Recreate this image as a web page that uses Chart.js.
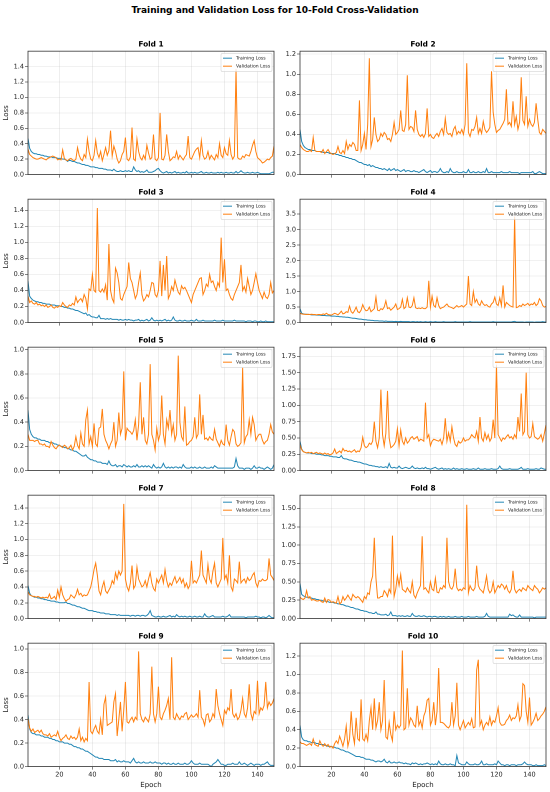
<!DOCTYPE html>
<html>
<head>
<meta charset="utf-8">
<script src="https://cdn.jsdelivr.net/npm/chart.js@4.4.0/dist/chart.umd.min.js"></script>
<style>
  body { margin: 0; background: #fff; width: 550px; height: 792px; position: relative; overflow: hidden; font-family: "DejaVu Sans", sans-serif; }
  #title { position: absolute; left: 0; top: 4px; width: 550px; text-align: center; font-weight: bold; font-size: 9px; line-height: 12px; color: #000; }
  canvas { position: absolute; }
</style>
</head>
<body>
<div id="title">Training and Validation Loss for 10-Fold Cross-Validation</div>
<script>
// epochs 1..150 (x categories)
const epochs = Array.from({ length: 150 }, (_, i) => i + 1);
const xTicks = [20, 40, 60, 80, 100, 120, 140];

const yMax = [1.6, 1.23, 1.54, 3.98, 1.02, 1.89, 1.56, 1.68, 1.05, 1.34];
const yTicks = [
  [0, 0.2, 0.4, 0.6, 0.8, 1.0, 1.2, 1.4],
  [0, 0.2, 0.4, 0.6, 0.8, 1.0, 1.2],
  [0, 0.2, 0.4, 0.6, 0.8, 1.0, 1.2, 1.4],
  [0, 0.5, 1.0, 1.5, 2.0, 2.5, 3.0, 3.5],
  [0, 0.2, 0.4, 0.6, 0.8, 1.0],
  [0, 0.25, 0.5, 0.75, 1.0, 1.25, 1.5, 1.75],
  [0, 0.2, 0.4, 0.6, 0.8, 1.0, 1.2, 1.4],
  [0, 0.25, 0.5, 0.75, 1.0, 1.25, 1.5],
  [0, 0.2, 0.4, 0.6, 0.8, 1.0],
  [0, 0.2, 0.4, 0.6, 0.8, 1.0, 1.2]
];
const yDecimals = [1, 1, 1, 1, 1, 2, 1, 2, 1, 1];

const train1 = [
  0.47,0.34,0.30,0.28,0.27,0.27,0.26,0.26,0.25,0.25,
  0.24,0.24,0.23,0.23,0.23,0.22,0.22,0.22,0.21,0.21,
  0.21,0.20,0.20,0.19,0.17,0.19,0.18,0.17,0.17,0.16,
  0.15,0.15,0.14,0.13,0.13,0.12,0.12,0.11,0.10,0.10,
  0.10,0.09,0.09,0.08,0.08,0.08,0.07,0.07,0.06,0.06,
  0.06,0.05,0.07,0.05,0.04,0.04,0.05,0.04,0.04,0.05,
  0.04,0.05,0.04,0.04,0.10,0.06,0.04,0.05,0.03,0.04,
  0.03,0.04,0.06,0.03,0.03,0.03,0.04,0.05,0.07,0.08,
  0.05,0.03,0.02,0.03,0.04,0.02,0.03,0.02,0.03,0.04,
  0.02,0.03,0.02,0.02,0.03,0.02,0.04,0.02,0.02,0.03,
  0.02,0.03,0.02,0.02,0.03,0.04,0.02,0.02,0.03,0.02,
  0.02,0.03,0.02,0.02,0.02,0.03,0.02,0.03,0.02,0.02,
  0.03,0.02,0.02,0.03,0.02,0.02,0.04,0.02,0.03,0.05,
  0.03,0.02,0.02,0.03,0.02,0.02,0.03,0.02,0.02,0.03,
  0.02,0.01,0.01,0.01,0.01,0.01,0.01,0.02,0.03,0.03
];
const val1 = [
  0.33,0.26,0.24,0.22,0.21,0.20,0.20,0.21,0.22,0.21,
  0.20,0.19,0.21,0.22,0.23,0.24,0.23,0.22,0.19,0.20,
  0.19,0.32,0.21,0.19,0.18,0.20,0.21,0.19,0.18,0.20,
  0.35,0.25,0.20,0.18,0.26,0.22,0.46,0.30,0.20,0.18,
  0.25,0.44,0.28,0.22,0.30,0.18,0.26,0.35,0.25,0.31,
  0.57,0.24,0.37,0.30,0.20,0.15,0.18,0.26,0.30,0.48,
  0.20,0.18,0.23,0.61,0.20,0.18,0.46,0.30,0.22,0.19,
  0.25,0.20,0.38,0.28,0.20,0.22,0.52,0.20,0.18,0.22,
  0.80,0.20,0.19,0.25,0.52,0.30,0.18,0.20,0.23,0.22,
  0.30,0.20,0.25,0.22,0.19,0.23,0.26,0.50,0.22,0.20,
  0.25,0.30,0.33,0.35,0.22,0.44,0.25,0.20,0.22,0.30,
  0.20,0.25,0.22,0.19,0.26,0.22,0.40,0.25,0.22,0.35,
  0.27,0.25,0.44,0.26,0.20,0.24,1.37,0.22,0.20,0.20,
  0.24,0.22,0.26,0.25,0.24,0.30,0.38,0.44,0.30,0.22,
  0.20,0.18,0.15,0.16,0.18,0.20,0.19,0.22,0.24,0.37
];

const train2 = [
  0.45,0.33,0.29,0.27,0.26,0.25,0.25,0.24,0.24,0.24,
  0.23,0.23,0.23,0.23,0.22,0.22,0.22,0.22,0.21,0.21,
  0.21,0.21,0.20,0.20,0.19,0.19,0.18,0.18,0.17,0.17,
  0.16,0.16,0.15,0.15,0.14,0.13,0.12,0.12,0.11,0.10,
  0.10,0.09,0.10,0.08,0.09,0.08,0.07,0.07,0.06,0.06,
  0.05,0.06,0.05,0.04,0.06,0.04,0.05,0.06,0.04,0.05,
  0.04,0.03,0.04,0.05,0.03,0.04,0.04,0.03,0.03,0.04,
  0.03,0.03,0.02,0.03,0.04,0.05,0.03,0.02,0.03,0.04,
  0.02,0.03,0.03,0.02,0.03,0.06,0.03,0.02,0.02,0.03,
  0.02,0.06,0.03,0.02,0.02,0.03,0.02,0.02,0.02,0.03,
  0.02,0.02,0.05,0.02,0.02,0.03,0.02,0.02,0.03,0.02,
  0.02,0.03,0.02,0.06,0.02,0.02,0.03,0.02,0.02,0.02,
  0.02,0.02,0.03,0.02,0.02,0.02,0.02,0.03,0.02,0.02,
  0.02,0.02,0.02,0.01,0.02,0.02,0.02,0.02,0.02,0.02,
  0.02,0.03,0.01,0.01,0.02,0.03,0.02,0.01,0.01,0.01
];
const val2 = [
  0.30,0.27,0.25,0.24,0.23,0.23,0.24,0.23,0.37,0.24,
  0.23,0.23,0.23,0.22,0.25,0.21,0.23,0.25,0.22,0.21,
  0.20,0.21,0.22,0.28,0.22,0.21,0.24,0.21,0.33,0.25,
  0.30,0.28,0.32,0.30,0.24,0.24,0.74,0.24,0.30,0.41,
  0.25,0.50,1.16,0.28,0.35,0.57,0.40,0.33,0.35,0.41,
  0.38,0.42,0.40,0.35,0.36,0.33,0.40,0.52,0.40,0.42,
  0.45,0.64,0.44,0.43,0.50,0.99,0.45,0.48,0.47,0.43,
  0.64,0.45,0.40,0.38,0.40,0.37,0.41,0.66,0.38,0.40,
  0.37,0.36,0.39,0.41,0.38,0.43,0.46,0.40,0.56,0.42,
  0.40,0.41,0.38,0.45,0.48,0.40,0.43,0.41,0.45,0.40,
  0.50,1.11,0.42,0.38,0.45,0.44,0.48,0.57,0.41,0.46,
  0.41,0.53,0.45,0.42,0.44,0.47,1.03,0.62,0.50,0.42,
  0.44,0.45,0.48,0.51,0.55,0.85,0.50,0.52,0.48,0.73,
  0.50,0.58,0.45,0.52,0.97,0.54,0.50,0.78,0.48,0.55,
  0.50,0.48,0.52,0.71,0.55,0.42,0.40,0.45,0.43,0.41
];

const train3 = [
  0.52,0.33,0.30,0.28,0.27,0.26,0.26,0.25,0.25,0.24,
  0.24,0.23,0.23,0.23,0.22,0.22,0.22,0.21,0.21,0.21,
  0.20,0.20,0.19,0.19,0.18,0.18,0.17,0.17,0.16,0.15,
  0.15,0.14,0.13,0.12,0.11,0.12,0.09,0.10,0.08,0.07,
  0.07,0.06,0.06,0.09,0.05,0.05,0.05,0.04,0.05,0.04,
  0.05,0.04,0.04,0.04,0.04,0.03,0.04,0.03,0.03,0.04,
  0.03,0.04,0.03,0.03,0.02,0.03,0.03,0.04,0.02,0.03,
  0.02,0.03,0.04,0.02,0.03,0.06,0.03,0.02,0.03,0.02,
  0.03,0.02,0.03,0.04,0.02,0.03,0.02,0.03,0.07,0.03,
  0.02,0.02,0.03,0.02,0.02,0.03,0.02,0.02,0.02,0.03,
  0.02,0.02,0.04,0.02,0.02,0.02,0.03,0.02,0.02,0.02,
  0.02,0.02,0.02,0.03,0.02,0.02,0.02,0.02,0.03,0.02,
  0.02,0.02,0.02,0.02,0.02,0.03,0.02,0.02,0.02,0.02,
  0.02,0.02,0.01,0.02,0.02,0.02,0.01,0.02,0.02,0.01,
  0.01,0.02,0.01,0.01,0.02,0.01,0.01,0.01,0.01,0.01
];
const val3 = [
  0.33,0.25,0.27,0.24,0.23,0.25,0.22,0.23,0.21,0.22,
  0.20,0.22,0.19,0.20,0.22,0.19,0.18,0.20,0.19,0.21,
  0.20,0.25,0.22,0.20,0.19,0.22,0.21,0.24,0.22,0.32,
  0.25,0.28,0.30,0.26,0.35,0.30,0.17,0.42,0.40,0.60,
  0.40,0.38,1.43,0.40,0.38,0.42,0.38,0.47,0.28,0.98,
  0.40,0.30,0.25,0.68,0.62,0.50,0.30,0.28,0.35,0.40,
  0.45,0.75,0.55,0.50,0.40,0.30,0.35,0.50,0.62,0.35,
  0.27,0.30,0.35,0.32,0.40,0.50,0.49,0.35,0.32,0.40,
  0.77,0.33,0.72,0.40,0.83,0.30,0.35,0.45,0.40,0.53,
  0.45,0.38,0.35,0.46,0.42,0.44,0.40,0.35,0.30,0.25,
  0.35,0.40,0.45,0.50,0.55,0.56,0.35,0.40,0.48,0.45,
  0.60,0.50,0.52,0.45,0.40,0.50,0.45,1.06,0.50,0.79,
  0.40,0.42,0.35,0.30,0.28,0.35,0.40,0.45,0.50,0.72,
  0.40,0.45,0.38,0.55,0.45,0.35,0.40,0.50,0.61,0.50,
  0.40,0.35,0.30,0.38,0.32,0.30,0.35,0.50,0.37,0.40
];

const train4 = [
  0.45,0.30,0.28,0.27,0.27,0.26,0.26,0.25,0.25,0.25,
  0.24,0.24,0.24,0.23,0.23,0.23,0.22,0.22,0.22,0.21,
  0.21,0.21,0.20,0.20,0.19,0.19,0.18,0.18,0.17,0.17,
  0.16,0.15,0.14,0.14,0.13,0.12,0.11,0.11,0.10,0.09,
  0.09,0.08,0.08,0.07,0.07,0.06,0.06,0.06,0.05,0.05,
  0.05,0.04,0.05,0.04,0.04,0.04,0.04,0.03,0.04,0.03,
  0.03,0.04,0.03,0.03,0.03,0.03,0.03,0.02,0.03,0.03,
  0.02,0.03,0.02,0.03,0.02,0.02,0.03,0.02,0.02,0.03,
  0.02,0.02,0.03,0.02,0.02,0.02,0.02,0.03,0.02,0.02,
  0.02,0.02,0.02,0.02,0.03,0.02,0.02,0.02,0.02,0.02,
  0.02,0.02,0.02,0.03,0.02,0.02,0.02,0.02,0.02,0.02,
  0.02,0.02,0.02,0.02,0.02,0.02,0.02,0.03,0.02,0.02,
  0.02,0.02,0.02,0.02,0.02,0.02,0.02,0.02,0.02,0.03,
  0.04,0.02,0.02,0.02,0.02,0.02,0.01,0.02,0.02,0.02,
  0.02,0.02,0.01,0.02,0.02,0.02,0.02,0.03,0.02,0.02
];
const val4 = [
  0.30,0.28,0.27,0.27,0.26,0.27,0.26,0.27,0.26,0.26,
  0.25,0.26,0.26,0.25,0.28,0.26,0.30,0.26,0.25,0.24,
  0.27,0.30,0.28,0.25,0.30,0.37,0.28,0.30,0.35,0.33,
  0.53,0.35,0.30,0.38,0.50,0.35,0.32,0.40,0.58,0.45,
  0.38,0.40,0.50,0.35,0.40,0.45,0.82,0.40,0.38,0.45,
  0.42,0.50,0.70,0.45,0.48,0.40,0.45,0.50,0.60,0.42,
  0.45,0.50,0.75,0.45,0.50,0.80,0.50,0.48,0.55,0.80,
  0.48,0.45,0.47,0.45,0.48,0.45,0.45,0.50,1.35,0.50,
  0.85,0.55,0.50,0.80,0.55,0.45,0.48,0.50,0.55,0.60,
  0.52,0.50,0.48,0.45,0.50,0.55,0.50,0.52,0.55,0.50,
  0.55,0.60,1.50,0.60,0.55,1.00,0.65,0.75,0.60,0.55,
  0.70,0.60,0.55,0.58,0.52,0.50,0.60,0.65,0.82,0.60,
  0.55,0.80,0.55,1.20,0.50,0.65,0.60,0.55,0.52,0.50,
  3.42,0.48,0.50,0.55,0.52,0.60,0.55,0.58,0.62,0.55,
  0.60,0.58,0.65,0.55,0.60,0.77,0.70,0.55,0.50,0.52
];

const train5 = [
  0.50,0.34,0.30,0.28,0.27,0.27,0.26,0.26,0.25,0.25,
  0.25,0.24,0.24,0.23,0.23,0.23,0.22,0.22,0.21,0.21,
  0.20,0.20,0.19,0.19,0.18,0.18,0.17,0.17,0.16,0.16,
  0.15,0.14,0.13,0.12,0.12,0.13,0.11,0.10,0.09,0.09,
  0.08,0.08,0.07,0.07,0.07,0.06,0.06,0.06,0.05,0.08,
  0.05,0.04,0.04,0.05,0.03,0.04,0.04,0.03,0.05,0.04,
  0.03,0.04,0.03,0.03,0.04,0.03,0.05,0.03,0.03,0.04,
  0.03,0.04,0.03,0.04,0.03,0.02,0.05,0.03,0.02,0.03,
  0.02,0.03,0.06,0.03,0.02,0.03,0.02,0.03,0.02,0.03,
  0.03,0.02,0.03,0.02,0.05,0.03,0.02,0.02,0.02,0.03,
  0.02,0.03,0.02,0.02,0.03,0.02,0.02,0.03,0.02,0.02,
  0.02,0.03,0.02,0.04,0.03,0.02,0.02,0.02,0.02,0.02,
  0.02,0.02,0.02,0.02,0.02,0.03,0.10,0.04,0.02,0.02,
  0.02,0.01,0.02,0.02,0.02,0.01,0.02,0.04,0.02,0.02,
  0.03,0.02,0.02,0.01,0.02,0.03,0.02,0.01,0.02,0.05
];
const val5 = [
  0.30,0.25,0.25,0.25,0.24,0.25,0.25,0.22,0.22,0.21,
  0.22,0.20,0.20,0.19,0.24,0.21,0.19,0.18,0.20,0.21,
  0.20,0.19,0.21,0.20,0.18,0.19,0.21,0.17,0.20,0.28,
  0.21,0.18,0.31,0.22,0.20,0.42,0.50,0.22,0.28,0.20,
  0.39,0.22,0.20,0.35,0.36,0.51,0.30,0.25,0.22,0.18,
  0.22,0.25,0.40,0.20,0.25,0.48,0.30,0.35,0.82,0.25,
  0.35,0.33,0.32,0.30,0.33,0.42,0.25,0.38,0.73,0.30,
  0.44,0.25,0.22,0.30,0.88,0.30,0.25,0.17,0.35,0.25,
  0.30,0.62,0.30,0.22,0.42,0.35,0.50,0.30,0.38,0.25,
  0.30,0.95,0.40,0.28,0.25,0.53,0.21,0.22,0.24,0.25,
  0.28,0.44,0.27,0.30,0.63,0.30,0.46,0.26,0.27,0.25,
  0.28,0.26,0.25,0.34,0.26,0.23,0.20,0.25,0.22,0.21,
  0.38,0.25,0.21,0.28,0.34,0.32,0.22,0.20,0.21,0.23,
  0.85,0.23,0.28,0.30,0.42,0.30,0.44,0.38,0.25,0.28,
  0.30,0.30,0.25,0.22,0.24,0.25,0.30,0.38,0.32,0.30
];

const train6 = [
  0.45,0.33,0.29,0.28,0.27,0.27,0.27,0.26,0.26,0.26,
  0.25,0.25,0.25,0.24,0.24,0.23,0.23,0.23,0.22,0.22,
  0.21,0.21,0.21,0.20,0.20,0.23,0.19,0.18,0.18,0.17,
  0.16,0.16,0.15,0.14,0.14,0.13,0.13,0.12,0.11,0.10,
  0.10,0.09,0.08,0.08,0.07,0.07,0.06,0.06,0.05,0.06,
  0.05,0.05,0.06,0.04,0.11,0.05,0.04,0.05,0.04,0.04,
  0.07,0.04,0.03,0.04,0.05,0.04,0.03,0.04,0.07,0.04,
  0.03,0.04,0.03,0.03,0.04,0.03,0.05,0.03,0.03,0.02,
  0.03,0.04,0.05,0.03,0.02,0.03,0.04,0.02,0.03,0.02,
  0.03,0.02,0.02,0.04,0.02,0.03,0.02,0.02,0.03,0.02,
  0.02,0.03,0.02,0.02,0.02,0.03,0.02,0.02,0.04,0.02,
  0.02,0.02,0.03,0.02,0.02,0.02,0.03,0.02,0.02,0.02,
  0.03,0.07,0.03,0.02,0.02,0.02,0.02,0.03,0.02,0.02,
  0.02,0.02,0.02,0.03,0.05,0.02,0.02,0.02,0.03,0.02,
  0.02,0.02,0.02,0.03,0.02,0.02,0.04,0.03,0.02,0.02
];
const val6 = [
  0.40,0.32,0.29,0.28,0.27,0.28,0.27,0.28,0.26,0.27,
  0.28,0.26,0.27,0.26,0.25,0.27,0.25,0.26,0.24,0.25,
  0.27,0.33,0.26,0.28,0.30,0.27,0.34,0.30,0.31,0.29,
  0.30,0.28,0.30,0.32,0.28,0.30,0.29,0.35,0.51,0.38,
  0.35,0.37,0.42,0.40,0.45,0.75,0.45,0.35,0.50,1.24,
  0.55,0.38,0.57,1.22,0.50,0.35,0.37,0.40,0.45,0.64,
  0.38,0.62,0.45,0.40,0.50,0.42,0.45,0.50,0.52,0.48,
  0.50,0.52,0.45,0.48,0.47,0.45,1.04,0.50,0.55,0.38,
  0.45,0.48,0.47,0.46,0.45,0.48,0.40,0.50,0.80,0.45,
  0.58,0.45,0.67,0.50,0.40,0.37,0.45,0.42,0.44,0.50,
  0.45,0.47,0.47,0.50,0.55,0.52,0.50,0.60,0.45,0.82,
  0.50,0.45,0.58,0.48,0.55,0.45,0.50,0.78,0.50,1.62,
  0.55,0.50,0.45,0.50,0.48,0.52,0.55,0.50,0.52,0.48,
  0.55,0.50,0.82,0.60,1.18,0.55,0.60,1.50,0.55,0.50,
  0.52,0.72,0.52,0.50,0.48,0.50,0.55,0.45,0.57,0.70
];

const train7 = [
  0.42,0.32,0.29,0.28,0.27,0.27,0.26,0.26,0.25,0.25,
  0.24,0.24,0.23,0.23,0.22,0.22,0.22,0.21,0.21,0.20,
  0.20,0.20,0.20,0.21,0.19,0.19,0.18,0.17,0.17,0.16,
  0.15,0.15,0.14,0.13,0.13,0.12,0.11,0.10,0.10,0.10,
  0.09,0.09,0.08,0.08,0.07,0.07,0.07,0.06,0.06,0.06,
  0.05,0.05,0.05,0.05,0.04,0.05,0.04,0.04,0.04,0.04,
  0.04,0.04,0.03,0.04,0.04,0.03,0.04,0.04,0.03,0.04,
  0.04,0.03,0.04,0.06,0.10,0.04,0.03,0.02,0.02,0.03,
  0.02,0.02,0.03,0.02,0.02,0.03,0.04,0.02,0.03,0.02,
  0.05,0.03,0.02,0.03,0.02,0.03,0.02,0.02,0.03,0.02,
  0.02,0.03,0.02,0.02,0.03,0.02,0.02,0.06,0.03,0.02,
  0.02,0.03,0.04,0.02,0.02,0.02,0.02,0.02,0.03,0.02,
  0.02,0.03,0.05,0.02,0.02,0.02,0.02,0.02,0.02,0.02,
  0.02,0.02,0.01,0.02,0.02,0.02,0.02,0.02,0.03,0.02,
  0.02,0.01,0.02,0.02,0.01,0.02,0.04,0.02,0.01,0.01
];
const val7 = [
  0.34,0.30,0.29,0.28,0.28,0.27,0.28,0.27,0.26,0.27,
  0.26,0.27,0.26,0.31,0.25,0.26,0.28,0.24,0.36,0.27,
  0.40,0.30,0.25,0.22,0.24,0.25,0.30,0.28,0.26,0.30,
  0.37,0.30,0.32,0.28,0.30,0.29,0.30,0.35,0.40,0.50,
  0.62,0.70,0.55,0.35,0.30,0.40,0.47,0.35,0.32,0.36,
  0.40,0.48,0.44,0.58,0.50,0.60,0.55,0.60,1.45,0.50,
  0.40,0.35,0.45,0.67,0.38,0.42,0.65,0.50,0.45,0.40,
  0.42,0.48,0.40,0.50,0.58,0.45,0.38,0.35,0.50,0.45,
  0.50,0.55,0.45,0.62,0.48,0.40,0.45,0.42,0.48,0.53,
  0.45,0.48,0.52,0.45,0.50,0.40,0.45,0.38,0.42,0.73,
  0.45,0.48,0.45,0.50,0.55,0.86,0.55,0.50,0.45,0.68,
  0.50,0.45,0.60,0.70,0.45,0.40,0.45,0.50,1.02,0.50,
  0.55,0.45,0.80,0.40,0.35,0.50,0.48,0.45,0.72,0.45,
  0.48,0.50,0.45,0.52,0.48,0.50,0.55,0.58,0.45,0.40,
  0.48,0.47,0.50,0.48,0.48,0.50,0.76,0.55,0.52,0.48
];

const train8 = [
  0.48,0.33,0.31,0.30,0.29,0.29,0.28,0.28,0.27,0.27,
  0.26,0.26,0.25,0.25,0.24,0.24,0.23,0.23,0.22,0.22,
  0.22,0.21,0.21,0.20,0.20,0.19,0.19,0.18,0.17,0.17,
  0.16,0.15,0.15,0.14,0.13,0.13,0.12,0.11,0.11,0.10,
  0.10,0.09,0.08,0.08,0.07,0.07,0.09,0.06,0.06,0.05,
  0.05,0.05,0.06,0.04,0.05,0.09,0.04,0.04,0.04,0.03,
  0.04,0.03,0.04,0.03,0.03,0.04,0.03,0.03,0.07,0.04,
  0.03,0.03,0.04,0.03,0.03,0.04,0.03,0.02,0.03,0.03,
  0.02,0.03,0.03,0.02,0.02,0.03,0.02,0.03,0.02,0.02,
  0.03,0.02,0.02,0.02,0.03,0.02,0.02,0.02,0.03,0.02,
  0.02,0.02,0.03,0.02,0.02,0.02,0.02,0.03,0.02,0.02,
  0.02,0.02,0.03,0.07,0.03,0.02,0.02,0.02,0.02,0.02,
  0.02,0.02,0.02,0.02,0.02,0.02,0.02,0.06,0.04,0.05,
  0.03,0.02,0.02,0.05,0.02,0.02,0.02,0.02,0.02,0.02,
  0.02,0.02,0.01,0.02,0.02,0.02,0.02,0.02,0.02,0.02
];
const val8 = [
  0.29,0.27,0.26,0.28,0.38,0.28,0.30,0.25,0.26,0.25,
  0.24,0.24,0.25,0.23,0.22,0.28,0.22,0.26,0.25,0.22,
  0.23,0.22,0.21,0.30,0.20,0.22,0.30,0.25,0.28,0.32,
  0.28,0.25,0.33,0.30,0.28,0.30,0.28,0.25,0.22,0.30,
  0.27,0.35,0.33,0.50,0.58,1.10,0.55,0.28,0.28,0.30,
  0.30,0.38,0.35,0.30,0.40,0.35,1.13,0.30,0.40,0.58,
  0.45,0.60,0.40,0.38,0.36,0.42,0.38,0.35,0.50,0.32,
  0.28,0.35,0.40,0.45,1.12,0.40,0.42,0.38,0.35,0.50,
  0.40,0.38,0.55,0.36,0.35,0.42,0.40,0.45,0.42,1.10,
  0.50,0.42,0.40,0.45,0.68,0.42,0.38,0.40,0.38,0.42,
  0.40,1.55,0.35,0.45,0.40,0.38,0.42,0.72,0.45,0.40,
  0.38,0.35,0.45,0.58,0.40,0.35,0.38,0.50,0.35,0.40,
  0.45,0.42,0.47,0.45,0.40,0.45,0.38,0.35,0.40,0.65,
  0.40,0.35,0.38,0.40,0.37,0.42,0.40,0.38,0.45,0.42,
  0.40,0.38,0.45,0.42,0.40,0.35,0.38,0.42,0.40,0.42
];

const train9 = [
  0.44,0.32,0.29,0.28,0.28,0.27,0.27,0.27,0.26,0.26,
  0.25,0.25,0.25,0.24,0.24,0.23,0.23,0.22,0.22,0.21,
  0.21,0.21,0.20,0.20,0.20,0.19,0.19,0.18,0.17,0.17,
  0.16,0.16,0.15,0.15,0.14,0.13,0.13,0.12,0.11,0.10,
  0.09,0.08,0.08,0.07,0.07,0.07,0.06,0.06,0.06,0.06,
  0.05,0.05,0.05,0.06,0.04,0.05,0.04,0.04,0.05,0.04,
  0.04,0.04,0.03,0.05,0.07,0.04,0.03,0.04,0.03,0.03,
  0.04,0.03,0.03,0.03,0.04,0.03,0.03,0.04,0.03,0.03,
  0.03,0.02,0.03,0.03,0.02,0.03,0.02,0.02,0.03,0.02,
  0.02,0.03,0.02,0.02,0.02,0.03,0.02,0.02,0.03,0.05,
  0.03,0.02,0.02,0.02,0.03,0.02,0.02,0.02,0.02,0.02,
  0.01,0.00,0.02,0.03,0.04,0.06,0.04,0.02,0.02,0.01,
  0.01,0.02,0.02,0.02,0.03,0.02,0.02,0.02,0.04,0.02,
  0.02,0.03,0.02,0.01,0.02,0.03,0.02,0.01,0.02,0.02,
  0.02,0.01,0.02,0.02,0.03,0.04,0.02,0.01,0.01,0.01
];
const val9 = [
  0.41,0.33,0.30,0.32,0.29,0.30,0.31,0.29,0.31,0.28,
  0.27,0.27,0.26,0.28,0.25,0.26,0.27,0.26,0.30,0.25,
  0.22,0.24,0.25,0.27,0.24,0.23,0.26,0.24,0.25,0.23,
  0.25,0.32,0.22,0.25,0.21,0.24,0.22,0.72,0.30,0.28,
  0.32,0.35,0.30,0.28,0.40,0.27,0.53,0.59,0.35,0.36,
  0.37,0.38,0.55,0.62,0.26,0.40,0.55,0.30,0.48,0.72,
  0.38,0.37,0.40,0.42,0.38,0.42,0.40,0.98,0.45,0.40,
  0.38,0.42,0.40,0.38,0.45,0.85,0.45,0.38,0.45,0.68,
  0.42,0.40,0.45,0.48,0.52,0.58,0.40,0.93,0.42,0.40,
  0.45,0.42,0.40,0.43,0.42,0.45,0.46,0.40,0.42,0.44,
  0.42,0.43,0.45,0.42,0.65,0.42,0.40,0.35,0.44,0.45,
  0.38,0.40,0.45,0.42,0.66,0.52,0.45,0.40,0.35,0.48,
  0.45,0.50,0.48,0.66,0.45,0.42,0.45,0.40,0.42,0.48,
  0.58,0.45,0.42,0.50,0.70,0.45,0.40,0.47,0.45,0.73,
  0.45,0.50,0.48,0.52,0.72,0.50,0.55,0.52,0.54,0.58
];

const train10 = [
  0.45,0.32,0.29,0.28,0.28,0.27,0.27,0.26,0.26,0.26,
  0.25,0.25,0.24,0.24,0.24,0.23,0.23,0.22,0.22,0.22,
  0.21,0.21,0.20,0.20,0.19,0.18,0.18,0.17,0.16,0.16,
  0.15,0.14,0.13,0.12,0.11,0.11,0.11,0.10,0.10,0.09,
  0.08,0.08,0.08,0.07,0.07,0.06,0.05,0.06,0.06,0.05,
  0.06,0.08,0.05,0.04,0.06,0.04,0.04,0.05,0.04,0.04,
  0.05,0.04,0.04,0.03,0.04,0.03,0.03,0.02,0.04,0.03,
  0.04,0.03,0.02,0.03,0.02,0.03,0.03,0.04,0.03,0.02,
  0.03,0.02,0.03,0.02,0.06,0.03,0.02,0.02,0.03,0.02,
  0.02,0.03,0.02,0.02,0.01,0.12,0.04,0.03,0.02,0.02,
  0.02,0.05,0.03,0.02,0.02,0.02,0.03,0.02,0.02,0.03,
  0.06,0.02,0.02,0.03,0.02,0.02,0.02,0.02,0.03,0.02,
  0.06,0.04,0.02,0.02,0.01,0.02,0.02,0.01,0.02,0.02,
  0.02,0.01,0.02,0.02,0.02,0.03,0.05,0.03,0.02,0.02,
  0.02,0.01,0.01,0.02,0.01,0.01,0.01,0.01,0.02,0.01
];
const val10 = [
  0.27,0.25,0.25,0.24,0.23,0.24,0.25,0.23,0.30,0.24,
  0.23,0.22,0.28,0.24,0.22,0.25,0.22,0.24,0.21,0.22,
  0.20,0.25,0.28,0.25,0.33,0.28,0.22,0.30,0.44,0.22,
  0.30,0.60,0.35,0.25,0.53,0.30,0.28,0.73,0.30,0.28,
  0.35,0.28,0.50,0.64,0.40,0.74,0.42,0.50,0.70,0.40,
  0.50,0.94,0.32,0.30,0.48,0.35,0.28,0.60,0.40,0.45,
  0.42,0.45,1.26,0.40,0.42,0.85,0.45,0.53,0.50,0.45,
  0.43,0.66,0.45,0.50,0.42,0.55,0.60,0.72,0.74,0.45,
  0.50,0.70,0.45,0.60,1.07,0.48,0.48,0.47,0.45,0.43,
  0.42,0.45,0.70,0.45,0.55,0.91,0.45,0.40,0.45,0.50,
  0.42,0.45,0.48,0.45,0.52,0.42,0.43,1.05,1.16,0.45,
  0.50,0.40,0.45,0.48,0.45,0.54,0.45,0.50,0.48,0.55,
  0.64,0.48,0.45,0.45,0.46,0.50,0.52,0.56,0.50,0.53,
  0.52,0.55,0.67,0.50,0.55,0.90,0.88,0.60,0.48,0.75,
  0.45,0.48,0.52,0.58,0.50,0.52,0.55,0.57,0.60,0.65
];

const trainLoss = [train1, train2, train3, train4, train5, train6, train7, train8, train9, train10];
const valLoss = [val1, val2, val3, val4, val5, val6, val7, val8, val9, val10];

const BLUE = '#2387b5';
const ORANGE = '#ff7f0e';
const GRID = 'rgba(176,176,176,0.35)';
const FONT = '"DejaVu Sans", sans-serif';
Chart.defaults.font.family = FONT;
Chart.defaults.color = '#222';

// spines + matplotlib-like legend in the upper right
const framePlugin = {
  id: 'frame',
  afterDraw(chart) {
    const { ctx, chartArea: a } = chart;
    ctx.save();
    ctx.strokeStyle = '#333';
    ctx.lineWidth = 0.8;
    ctx.strokeRect(a.left, a.top, a.right - a.left, a.bottom - a.top);

    const w = 51, h = 18, x = a.right - w - 2, y = a.top + 2.3;
    ctx.fillStyle = 'rgba(255,255,255,0.8)';
    ctx.strokeStyle = '#d4d4d4';
    ctx.lineWidth = 0.6;
    ctx.beginPath();
    ctx.roundRect(x, y, w, h, 1.5);
    ctx.fill();
    ctx.stroke();
    ctx.font = '4.6px ' + FONT;
    ctx.textBaseline = 'middle';
    ctx.textAlign = 'left';
    chart.data.datasets.forEach((ds, k) => {
      const ly = y + 4.7 + k * 8;
      ctx.strokeStyle = ds.borderColor;
      ctx.lineWidth = 1;
      ctx.beginPath();
      ctx.moveTo(x + 2, ly);
      ctx.lineTo(x + 11, ly);
      ctx.stroke();
      ctx.fillStyle = '#222';
      ctx.fillText(ds.label, x + 15, ly);
    });
    ctx.restore();
  }
};

const plotTop0 = 50.7, rowGap = 148.15, plotH = 123.4, titleBlock = 12.18;

for (let i = 0; i < 10; i++) {
  const col = i % 2, row = Math.floor(i / 2);
  const bottomRow = row === 4;
  const canvasH = bottomRow ? 161 : 141;
  const xAxisH = canvasH - titleBlock - plotH;
  const cv = document.createElement('canvas');
  cv.width = 275;
  cv.height = canvasH;
  cv.style.left = (col * 275) + 'px';
  cv.style.top = (plotTop0 + row * rowGap - titleBlock) + 'px';
  cv.style.width = '275px';
  cv.style.height = canvasH + 'px';
  document.body.appendChild(cv);

  new Chart(cv, {
    type: 'line',
    data: {
      labels: epochs,
      datasets: [
        { label: 'Training Loss', data: trainLoss[i], borderColor: BLUE, borderWidth: 1, pointRadius: 0, order: 1 },
        { label: 'Validation Loss', data: valLoss[i], borderColor: ORANGE, borderWidth: 1, pointRadius: 0, order: 0 }
      ]
    },
    options: {
      responsive: false,
      animation: false,
      devicePixelRatio: 2,
      layout: { padding: { left: 0, right: col === 0 ? 1 : 4, top: 0, bottom: 0 } },
      plugins: {
        legend: { display: false },
        tooltip: { enabled: false },
        title: {
          display: true,
          text: 'Fold ' + (i + 1),
          fullSize: false,
          color: '#000',
          font: { size: 7.4, weight: 'bold', family: FONT },
          padding: { top: 1.3, bottom: 2 }
        }
      },
      scales: {
        x: {
          type: 'linear',
          min: 1,
          max: 150,
          afterBuildTicks: s => { s.ticks = xTicks.map(v => ({ value: v })); },
          afterFit: s => { s.height = xAxisH; },
          border: { display: false },
          grid: { color: GRID, tickColor: '#333', tickLength: 3, lineWidth: 0.6 },
          ticks: { display: bottomRow, maxRotation: 0, padding: 1.5, font: { size: 6.5 } },
          title: { display: bottomRow, text: 'Epoch', font: { size: 7 }, padding: { top: 0, bottom: 2.8 } }
        },
        y: {
          min: 0,
          max: yMax[i],
          afterBuildTicks: s => { s.ticks = yTicks[i].map(v => ({ value: v })); },
          afterFit: s => { s.width = col === 0 ? 28 : 25; },
          border: { display: false },
          grid: { color: GRID, tickColor: '#333', tickLength: 3, lineWidth: 0.6 },
          ticks: { padding: 1, font: { size: 6.5 }, callback: v => Number(v).toFixed(yDecimals[i]) },
          title: { display: col === 0, text: 'Loss', font: { size: 7 }, padding: { top: 2, bottom: 0 } }
        }
      }
    },
    plugins: [framePlugin]
  });
}
</script>
</body>
</html>
